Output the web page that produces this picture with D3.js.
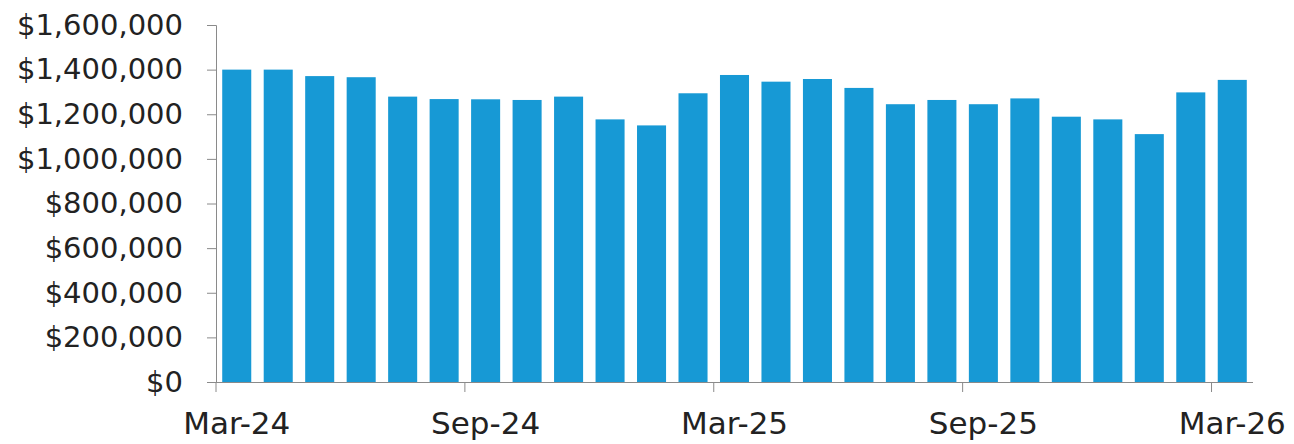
<!DOCTYPE html>
<html>
<head>
<meta charset="utf-8">
<script src="https://cdn.jsdelivr.net/npm/d3@7"></script>
<style>
  body { margin: 0; background: #fff; }
  text { font-family: "DejaVu Sans", sans-serif; fill: #222; }
</style>
</head>
<body>
<div id="container"></div>
<script>
// monthly values, Mar-24 .. Mar-26
let months = ["Mar-24","Apr-24","May-24","Jun-24","Jul-24","Aug-24","Sep-24","Oct-24","Nov-24","Dec-24","Jan-25","Feb-25",
  "Mar-25","Apr-25","May-25","Jun-25","Jul-25","Aug-25","Sep-25","Oct-25","Nov-25","Dec-25","Jan-26","Feb-26","Mar-26"];
let values = [1400000, 1400000, 1371000, 1366000, 1279000, 1268000, 1267000, 1264000, 1279000, 1177000, 1150000, 1294000,
  1376000, 1346000, 1358000, 1318000, 1245000, 1264000, 1245000, 1271000, 1189000, 1177000, 1111000, 1298000, 1354000];
let xTickLabels = ["Mar-24", "Sep-24", "Mar-25", "Sep-25", "Mar-26"];
let yTicks = [0, 200000, 400000, 600000, 800000, 1000000, 1200000, 1400000, 1600000];

let w = 1294;
let h = 444;
let xLeft = 216;
let xRight = 1253;
let yTop = 25;
let yBottom = 382;

let viz = d3.select("#container")
  .append("svg")
    .attr("width", w)
    .attr("height", h)
;

let xScale = d3.scaleBand().domain(months).range([xLeft, xRight]).paddingInner(0.3).paddingOuter(0.15);
let yScale = d3.scaleLinear().domain([0, 1600000]).range([yBottom, yTop]);

// bars
viz.append("g").selectAll("rect").data(values).enter()
  .append("rect")
    .attr("x", function(d, i){ return xScale(months[i]); })
    .attr("y", function(d){ return yScale(d); })
    .attr("width", xScale.bandwidth())
    .attr("height", function(d){ return yScale(0) - yScale(d); })
    .attr("fill", "#1799d5")
;

// y axis
let yAxis = d3.axisLeft(yScale).tickValues(yTicks).tickSize(9).tickPadding(24)
  .tickFormat(function(d){ return "$" + d3.format(",")(d); });
let yAxisGroup = viz.append("g").attr("class", "yaxis")
  .attr("transform", "translate(" + xLeft + ",0)")
  .call(yAxis);
yAxisGroup.selectAll("text").attr("font-size", "29px").attr("font-family", "DejaVu Sans");

// x axis: ticks sit at band left edges, labels centred on bars
let xAxis = d3.axisBottom(xScale).tickValues(xTickLabels).tickSize(0).tickPadding(30);
let xAxisGroup = viz.append("g").attr("class", "xaxis")
  .attr("transform", "translate(0," + yBottom + ")")
  .call(xAxis);
xAxisGroup.select(".domain").attr("d", "M" + xLeft + ",0.5H" + xRight);
xAxisGroup.selectAll("text").attr("font-size", "31px").attr("font-family", "DejaVu Sans");
let tickOffset = -(xScale.step() * xScale.paddingInner() / 2 + xScale.bandwidth() / 2);
xAxisGroup.selectAll(".tick").append("line")
  .attr("x1", tickOffset)
  .attr("x2", tickOffset)
  .attr("y1", 0)
  .attr("y2", 10)
  .attr("stroke", "#8a8a8a");

viz.selectAll(".domain").attr("stroke", "#8a8a8a");
yAxisGroup.selectAll(".tick line").attr("stroke", "#8a8a8a");
</script>
</body>
</html>
